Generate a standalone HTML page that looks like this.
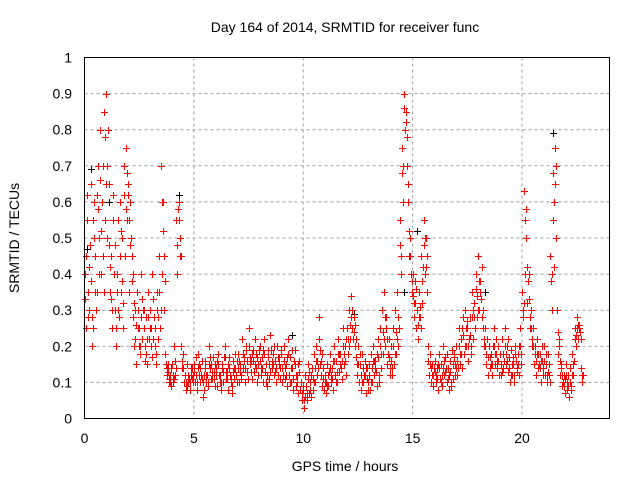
<!DOCTYPE html>
<html><head><meta charset="utf-8"><style>
body{margin:0;background:#fff;}
svg{display:block;font-family:"Liberation Sans",sans-serif;}
</style></head><body>
<svg id="chart" width="640" height="480" viewBox="0 0 640 480" xmlns="http://www.w3.org/2000/svg">
<rect width="640" height="480" fill="#fff"/>
<text x="345" y="32" font-size="14" text-anchor="middle">Day 164 of 2014, SRMTID for receiver func</text>
<text transform="translate(19,238) rotate(-90)" font-size="14" text-anchor="middle">SRMTID / TECUs</text>
<text x="345" y="471" font-size="14" text-anchor="middle">GPS time / hours</text>
<g id="grid"></g><g id="ticks"></g><g id="marks"></g>
<rect x="84.5" y="57.5" width="525" height="361" fill="none" stroke="#000" stroke-width="1"/>
</svg>
<script>
const xTicks=[0,5,10,15,20];
const yTicks=[0,0.1,0.2,0.3,0.4,0.5,0.6,0.7,0.8,0.9,1];
const yTickLabels=["0","0.1","0.2","0.3","0.4","0.5","0.6","0.7","0.8","0.9","1"];
const redA=[.40,.55,.30,.65,.25,.45,.70,.80,.60,.85,
.90,.65,.45,.55,.30,.40,.60,.50,.70,.75,
.65,.60,.40,.30,.35,.25,.40,.30,.28,.35,
.30,.40,.25,.35,.45,.70,.60,.18,.15,.12,
.15,.20,.55,.60,.45,.18,.12,.15,.10,.14,
.15,.12,.18,.14,.10,.16,.12,.20,.15,.13,
.14,.18,.12,.15,.20,.13,.17,.11,.16,.14,
.18,.15,.22,.17,.20,.25,.16,.19,.22,.17,
.20,.17,.22,.15,.19,.23,.18,.16,.20,.17,
.18,.20,.15,.22,.17,.14,.19,.12,.16,.10,
.08,.12,.15,.10,.14,.18,.20,.28,.16,.14,
.12,.15,.18,.14,.20,.16,.22,.18,.25,.20,
.25,.30,.34,.28,.22,.20,.15,.18,.16,.14,
.15,.18,.20,.16,.22,.25,.30,.35,.28,.22,
.20,.25,.30,.35,.55,.75,.90,.85,.60,.45,
.40,.38,.30,.35,.45,.55,.50,.20,.18,.15,
.16,.14,.18,.15,.20,.17,.14,.16,.19,.18,
.20,.25,.22,.28,.30,.25,.28,.35,.32,.40,
.45,.38,.30,.25,.22,.20,.18,.25,.22,.20,
.18,.22,.25,.20,.17,.19,.15,.20,.18,.25,
.35,.63,.50,.40,.30,.25,.20,.22,.18,.20,
.20,.15,.18,.45,.68,.75,.30,.20,.15,.12,
.15,.12,.10,.18,.25,.28,.26,.14];
const redB=[.25,.35,.48,.20,.60,.35,.50,.40,.70,.55,
.50,.35,.25,.40,.20,.30,.35,.25,.45,.55,
.35,.45,.20,.15,.25,.18,.22,.20,.15,.22,
.20,.22,.18,.28,.25,.40,.30,.12,.10,.14,
.10,.12,.40,.50,.14,.10,.08,.10,.14,.12,
.10,.08,.12,.11,.08,.12,.09,.14,.11,.09,
.09,.12,.08,.10,.13,.08,.12,.07,.11,.10,
.10,.12,.14,.10,.13,.15,.11,.13,.14,.12,
.12,.10,.13,.09,.11,.14,.12,.10,.12,.11,
.10,.11,.09,.12,.10,.08,.09,.07,.08,.05,
.03,.05,.07,.06,.08,.10,.12,.15,.09,.08,
.07,.09,.10,.08,.12,.10,.13,.11,.15,.12,
.18,.22,.25,.20,.12,.10,.08,.10,.07,.08,
.08,.10,.12,.09,.12,.14,.18,.20,.15,.12,
.12,.15,.18,.20,.40,.60,.80,.70,.45,.35,
.28,.25,.22,.28,.32,.40,.35,.12,.10,.09,
.10,.08,.11,.09,.12,.10,.08,.09,.11,.12,
.12,.15,.14,.18,.20,.16,.18,.22,.25,.28,
.30,.28,.20,.15,.12,.14,.12,.15,.14,.12,
.12,.14,.15,.13,.10,.12,.10,.13,.12,.15,
.28,.40,.32,.25,.20,.15,.12,.14,.10,.12,
.12,.10,.12,.30,.42,.50,.18,.12,.09,.07,
.08,.06,.09,.12,.20,.22,.24,.10];
const redC=[.33,.62,.42,.28,.50,.30,.58,.66,.45,.78,
.70,.48,.33,.62,.25,.55,.45,.38,.62,.68,
.55,.50,.28,.22,.30,.20,.33,.25,.18,.28,
.25,.33,.20,.30,.35,.60,.45,.15,.13,.10,
.12,.16,.48,.55,.20,.14,.10,.12,.08,.11,
.13,.10,.15,.12,.06,.14,.10,.17,.13,.11,
.12,.15,.10,.13,.17,.11,.14,.09,.14,.12,
.14,.13,.18,.14,.16,.20,.13,.16,.18,.15,
.16,.14,.18,.12,.15,.19,.15,.13,.17,.14,
.14,.16,.12,.18,.14,.11,.15,.10,.13,.07,
.05,.09,.11,.08,.11,.14,.16,.22,.12,.11,
.10,.12,.14,.11,.16,.13,.18,.14,.20,.16,
.22,.26,.30,.24,.17,.15,.12,.14,.12,.11,
.12,.14,.16,.13,.17,.20,.24,.28,.22,.17,
.16,.20,.24,.28,.48,.68,.86,.78,.52,.40,
.34,.32,.26,.31,.38,.48,.42,.16,.14,.12,
.13,.11,.14,.12,.16,.14,.11,.13,.15,.15,
.16,.20,.18,.23,.25,.20,.23,.28,.28,.34,
.38,.33,.25,.20,.17,.17,.15,.20,.18,.16,
.15,.18,.20,.16,.14,.15,.12,.16,.15,.20,
.30,.55,.42,.33,.25,.20,.16,.18,.14,.16,
.16,.12,.15,.38,.55,.65,.24,.16,.12,.09,
.12,.09,.08,.15,.22,.25,.25,.12];
const redD=[.45,.28,.38,.55,.35,.62,.40,.52,.35,.65,
.80,.42,.30,.48,.35,.28,.52,.32,.58,.62,
.48,.38,.32,.26,.20,.28,.30,.16,.22,.25,
.17,.28,.15,.22,.30,.52,.38,.14,.11,.09,
.11,.14,.58,.45,.16,.12,.09,.11,.12,.10,
.17,.14,.10,.16,.12,.10,.15,.11,.17,.15,
.16,.10,.14,.17,.11,.15,.10,.13,.18,.16,
.16,.11,.16,.19,.11,.17,.18,.15,.10,.19,
.14,.19,.10,.17,.13,.16,.20,.14,.15,.19,
.12,.14,.17,.10,.19,.16,.12,.15,.10,.09,
.06,.07,.13,.12,.10,.16,.14,.19,.18,.10,
.09,.13,.12,.16,.10,.18,.15,.16,.18,.22,
.20,.28,.22,.26,.15,.18,.10,.12,.14,.10,
.10,.16,.14,.18,.10,.18,.22,.25,.18,.14,
.14,.18,.22,.25,.45,.70,.82,.65,.50,.38,
.32,.36,.28,.25,.42,.50,.45,.15,.12,.14,
.12,.15,.10,.14,.13,.18,.12,.10,.17,.14,
.14,.18,.25,.20,.27,.22,.20,.30,.36,.30,
.35,.42,.22,.18,.20,.15,.20,.18,.16,.18,
.13,.16,.18,.22,.12,.17,.18,.14,.20,.18,
.32,.58,.38,.28,.22,.18,.18,.15,.16,.14,
.18,.13,.10,.40,.60,.70,.22,.14,.10,.11,
.10,.14,.12,.16,.23,.26,.22,.12];
const blackTimes=[0.1,0.3,1.1,4.3,9.5,12.3,14.6,15.2,18.3,21.4];
const blackValues=[.47,.69,.60,.62,.23,.29,.35,.52,.35,.79];

const X0=84.5,X1=609.5,Y0=418.5,Y1=57.5;
const sx=t=>X0+(X1-X0)*t/24;
const sy=v=>Y0-(Y0-Y1)*v;
const NS="http://www.w3.org/2000/svg";
function mk(tag,attrs,parent){const e=document.createElementNS(NS,tag);for(const k in attrs)e.setAttribute(k,attrs[k]);parent.appendChild(e);return e;}
const grid=document.getElementById('grid'),ticks=document.getElementById('ticks'),marks=document.getElementById('marks');
xTicks.forEach(t=>{
 const x=sx(t);
 if(t>0){const g=mk('line',{x1:x,x2:x,y1:Y1,y2:Y0,stroke:'#a0a0a0','stroke-dasharray':'3,3'},grid);
 }
 const l=mk('text',{x:x,y:443,'font-size':14,'text-anchor':'middle'},ticks);l.textContent=String(t);
 
});
yTicks.forEach((v,i)=>{
 const y=sy(v);
 if(v>0&&v<1){const g=mk('line',{x1:X0,x2:X1,y1:y,y2:y,stroke:'#a0a0a0','stroke-dasharray':'3,3'},grid);
 }
 const l=mk('text',{x:72,y:y+5,'font-size':14,'text-anchor':'end'},ticks);l.textContent=yTickLabels[i];
 
});
function plus(t,v,color,name){
 const x=Math.round(sx(t))+0.5,y=Math.round(sy(v))+0.5;
 const p=mk('path',{d:`M${x-3.5},${y}h7M${x},${y-3.5}v7`,stroke:color,'stroke-width':1,fill:'none'},marks);
 
 
}
blackValues.forEach((v,i)=>plus(blackTimes[i],v,'#000','black-point'));
redA.forEach((v,i)=>plus(i*0.1,v,'#f00','red-point'));
redB.forEach((v,i)=>plus(i*0.1+0.05,v,'#f00','red-point'));
redC.forEach((v,i)=>plus(i*0.1+0.025,v,'#f00','red-point'));
redD.forEach((v,i)=>plus(i*0.1+0.075,v,'#f00','red-point'));
</script>
</body></html>
